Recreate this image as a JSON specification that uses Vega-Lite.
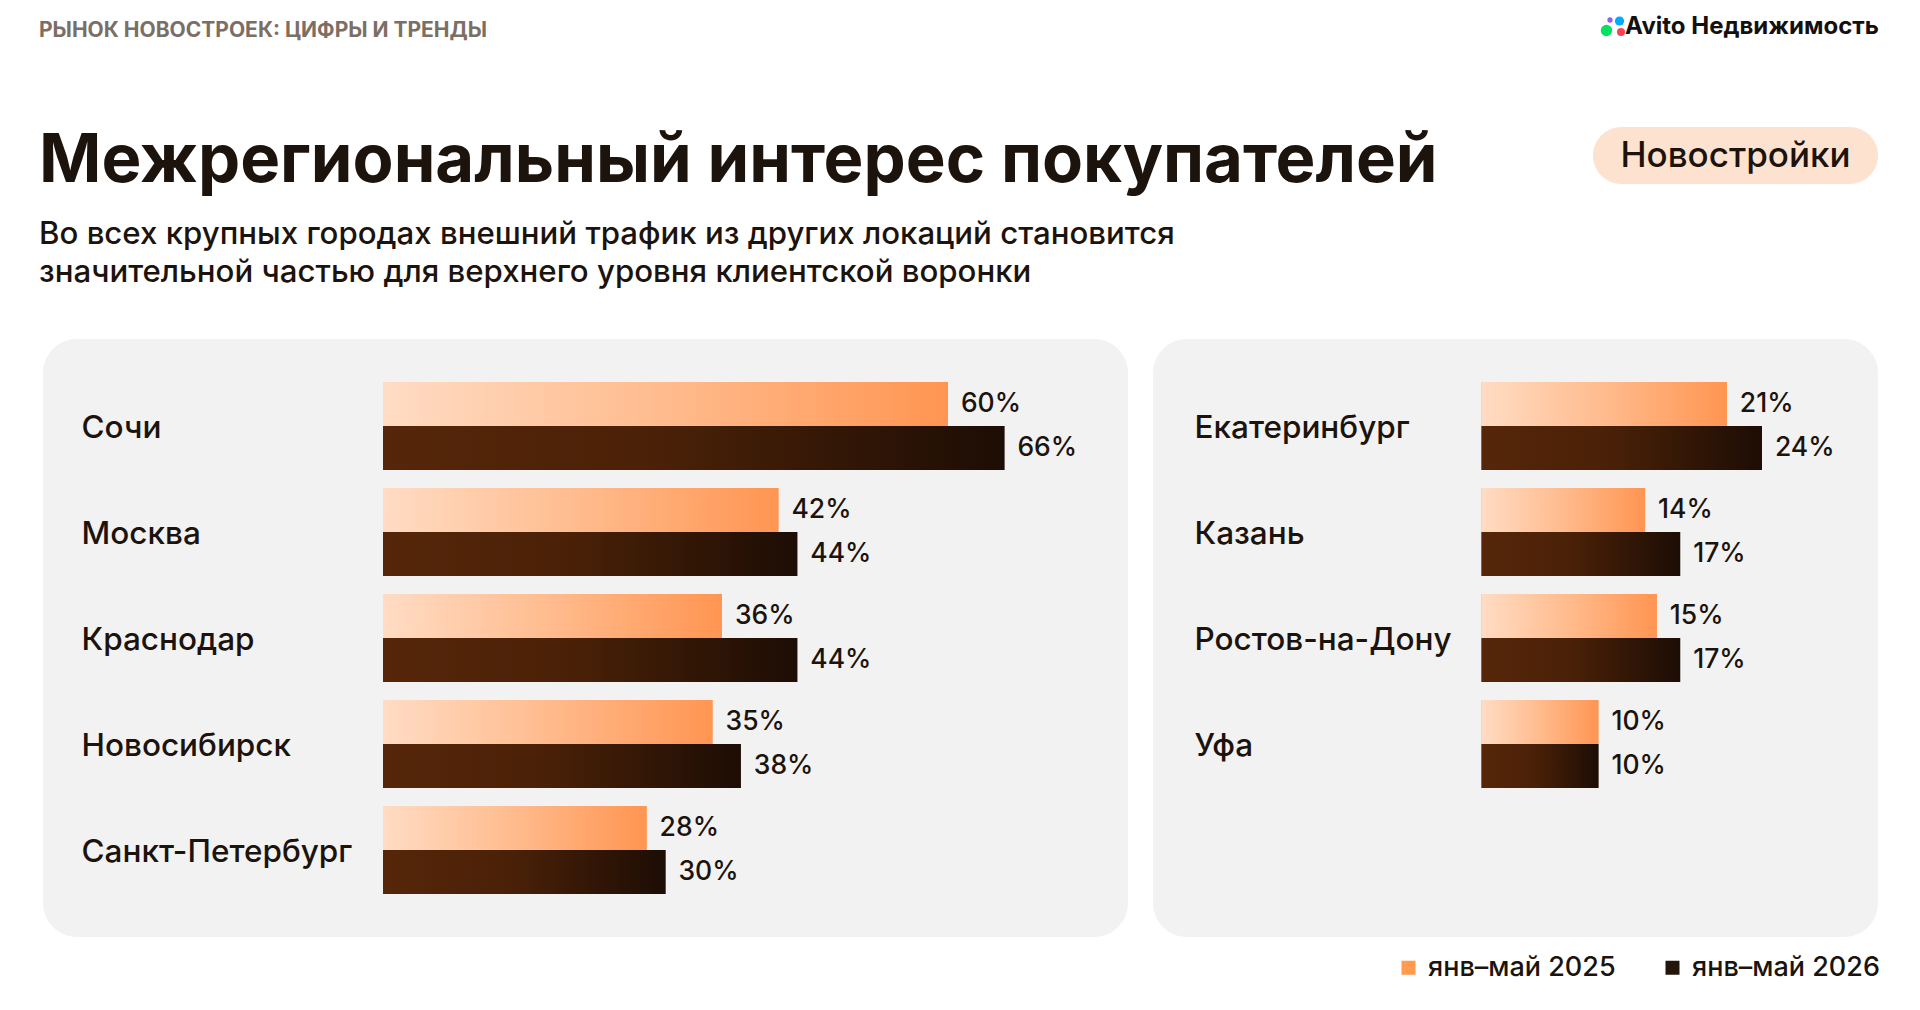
{
  "$schema": "https://vega.github.io/schema/vega-lite/v6.json",
  "background": "#ffffff",
  "padding": {"left": 39, "top": 12, "right": 10, "bottom": 10},
  "spacing": 0,
  "config": {
    "font": "Inter",
    "view": {"stroke": null},
    "axis": {"labelFont": "Inter"},
    "title": {"font": "Inter", "subtitleFont": "Inter"},
    "legend": {"labelFont": "Inter"}
  },
  "datasets": {
    "left": [
      {"city": "Сочи", "period": "янв–май 2025", "value": 0.60},
      {"city": "Сочи", "period": "янв–май 2026", "value": 0.66},
      {"city": "Москва", "period": "янв–май 2025", "value": 0.42},
      {"city": "Москва", "period": "янв–май 2026", "value": 0.44},
      {"city": "Краснодар", "period": "янв–май 2025", "value": 0.36},
      {"city": "Краснодар", "period": "янв–май 2026", "value": 0.44},
      {"city": "Новосибирск", "period": "янв–май 2025", "value": 0.35},
      {"city": "Новосибирск", "period": "янв–май 2026", "value": 0.38},
      {"city": "Санкт-Петербург", "period": "янв–май 2025", "value": 0.28},
      {"city": "Санкт-Петербург", "period": "янв–май 2026", "value": 0.30}
    ],
    "right": [
      {"city": "Екатеринбург", "period": "янв–май 2025", "value": 0.21},
      {"city": "Екатеринбург", "period": "янв–май 2026", "value": 0.24},
      {"city": "Казань", "period": "янв–май 2025", "value": 0.14},
      {"city": "Казань", "period": "янв–май 2026", "value": 0.17},
      {"city": "Ростов-на-Дону", "period": "янв–май 2025", "value": 0.15},
      {"city": "Ростов-на-Дону", "period": "янв–май 2026", "value": 0.17},
      {"city": "Уфа", "period": "янв–май 2025", "value": 0.10},
      {"city": "Уфа", "period": "янв–май 2026", "value": 0.10}
    ]
  },
  "vconcat": [
    {
      "bounds": "flush",
      "spacing": 20,
      "hconcat": [
        {
          "width": 1542,
          "height": 115,
          "data": {"values": [{}]},
          "mark": {"type": "text", "text": ""},
          "title": {
            "text": "РЫНОК НОВОСТРОЕК: ЦИФРЫ И ТРЕНДЫ",
            "anchor": "start", "frame": "group", "orient": "top",
            "offset": -29, "dx": -4,
            "fontSize": 21, "fontWeight": 700, "color": "#7b6e65"
          }
        },
        {
          "width": 273,
          "height": 28,
          "data": {"values": [{"label": "Avito Недвижимость"}]},
          "layer": [
            {
              "mark": {"type": "text", "fontSize": 24, "fontWeight": 700, "color": "#14100e", "dx": 10.5, "dy": 1, "baseline": "middle", "align": "center"},
              "encoding": {"text": {"field": "label"}}
            },
            {"mark": {"type": "point", "filled": true, "size": 130, "color": "#04e061", "strokeWidth": 0, "opacity": 1, "xOffset": -135, "yOffset": 4.5}, "encoding": {}},
            {"mark": {"type": "point", "filled": true, "size": 64, "color": "#ff4053", "strokeWidth": 0, "opacity": 1, "xOffset": -120.5, "yOffset": 6}, "encoding": {}},
            {"mark": {"type": "point", "filled": true, "size": 85, "color": "#00aaff", "strokeWidth": 0, "opacity": 1, "xOffset": -122, "yOffset": -5}, "encoding": {}},
            {"mark": {"type": "point", "filled": true, "size": 28, "color": "#965eeb", "strokeWidth": 0, "opacity": 1, "xOffset": -131.5, "yOffset": -6}, "encoding": {}}
          ]
        }
      ]
    },
    {
      "bounds": "flush",
      "spacing": 20,
      "hconcat": [
        {
          "width": 1530,
          "height": 212,
          "data": {"values": [{}]},
          "mark": {"type": "text", "text": ""},
          "title": {
            "text": "Межрегиональный интерес покупателей",
            "subtitle": ["Во всех крупных городах внешний трафик из других локаций становится", "значительной частью для верхнего уровня клиентской воронки"],
            "anchor": "start", "frame": "group", "orient": "top",
            "offset": -162, "dx": -4,
            "fontSize": 67, "fontWeight": 700, "color": "#1c130d",
            "subtitleFontSize": 31.2, "subtitleFontWeight": 500, "subtitleColor": "#1c130d",
            "subtitleLineHeight": 38, "subtitlePadding": 23
          }
        },
        {
          "width": 285,
          "height": 57,
          "view": {"fill": "#fde2cf", "cornerRadius": 28.5, "stroke": null},
          "data": {"values": [{"label": "Новостройки"}]},
          "mark": {"type": "text", "fontSize": 35, "fontWeight": 500, "color": "#1c130d", "baseline": "middle", "align": "center"},
          "encoding": {"text": {"field": "label"}}
        }
      ]
    },
    {
      "bounds": "flush",
      "spacing": 25,
      "hconcat": [
        {
          "width": 1085,
          "height": 598,
          "view": {"fill": "#f2f2f2", "cornerRadius": 34, "stroke": null},
          "data": {"name": "left"},
          "encoding": {
            "y": {
              "field": "city", "type": "nominal", "sort": null,
              "scale": {"paddingInner": 0.1698, "paddingOuter": 0.4057},
              "axis": {"orient": "left", "title": null, "domain": true, "domainOpacity": 0, "offset": 4, "ticks": false, "tickSize": 0, "labelPadding": -42, "labelAlign": "left", "labelOffset": 3, "labelFontSize": 31.5, "labelFontWeight": 500, "labelColor": "#1c130d", "labelLimit": 0, "grid": false}
            },
            "yOffset": {"field": "period", "type": "nominal", "scale": {"paddingInner": 0, "paddingOuter": 0}},
            "x": {"field": "value", "type": "quantitative", "scale": {"domain": [0, 0.7913], "range": [340, 1085]}, "axis": null}
          },
          "layer": [
            {
              "mark": {"type": "bar"},
              "encoding": {
                "color": {
                  "field": "period", "type": "nominal",
                  "scale": {"domain": ["янв–май 2025", "янв–май 2026"], "range": ["#ff9a4f", "#231509"]},
                  "legend": {"orient": "none", "legendX": 1352, "legendY": 942, "direction": "horizontal", "title": null, "symbolType": "square", "symbolSize": 196, "symbolStrokeWidth": 0, "labelFontSize": 27, "labelFontWeight": 500, "labelColor": "#1c130d", "columnPadding": 43, "labelOffset": 6, "padding": 0, "labelLimit": 0}
                }
              }
            },
            {
              "mark": {"type": "bar"},
              "encoding": {
                "fill": {
                  "condition": {
                    "test": "datum.period === 'янв–май 2025'",
                    "value": {"gradient": "linear", "x1": 0, "y1": 0, "x2": 1, "y2": 0, "stops": [{"offset": 0, "color": "#ffdcc4"}, {"offset": 0.5, "color": "#ffbb8d"}, {"offset": 1, "color": "#ff9552"}]}
                  },
                  "value": {"gradient": "linear", "x1": 0, "y1": 0, "x2": 1, "y2": 0, "stops": [{"offset": 0, "color": "#56260a"}, {"offset": 0.45, "color": "#4a2107"}, {"offset": 1, "color": "#1d0d05"}]}
                }
              }
            },
            {
              "mark": {"type": "text", "align": "left", "baseline": "middle", "dx": 13, "fontSize": 26.5, "fontWeight": 500, "color": "#1c130d"},
              "encoding": {"text": {"field": "value", "type": "quantitative", "format": ".0%"}}
            }
          ]
        },
        {
          "width": 725,
          "height": 598,
          "view": {"fill": "#f2f2f2", "cornerRadius": 34, "stroke": null},
          "data": {"name": "right"},
          "encoding": {
            "y": {
              "field": "city", "type": "nominal", "sort": null,
              "scale": {"paddingInner": 0.1698, "paddingOuter": 0.4057, "range": [0, 492]},
              "axis": {"orient": "left", "title": null, "domain": false, "ticks": false, "tickSize": 0, "labelPadding": -41, "labelAlign": "left", "labelOffset": 3, "labelFontSize": 31.5, "labelFontWeight": 500, "labelColor": "#1c130d", "labelLimit": 0, "grid": false}
            },
            "yOffset": {"field": "period", "type": "nominal", "scale": {"paddingInner": 0, "paddingOuter": 0}},
            "x": {"field": "value", "type": "quantitative", "scale": {"domain": [0, 0.3394], "range": [328.6, 725]}, "axis": null}
          },
          "layer": [
            {
              "mark": {"type": "bar"},
              "encoding": {
                "color": {
                  "field": "period", "type": "nominal",
                  "scale": {"domain": ["янв–май 2025", "янв–май 2026"], "range": ["#ff9a4f", "#231509"]},
                  "legend": {"orient": "none", "legendX": 1352, "legendY": 942, "direction": "horizontal", "title": null, "symbolType": "square", "symbolSize": 196, "symbolStrokeWidth": 0, "labelFontSize": 27, "labelFontWeight": 500, "labelColor": "#1c130d", "columnPadding": 43, "labelOffset": 6, "padding": 0, "labelLimit": 0}
                }
              }
            },
            {
              "mark": {"type": "bar"},
              "encoding": {
                "fill": {
                  "condition": {
                    "test": "datum.period === 'янв–май 2025'",
                    "value": {"gradient": "linear", "x1": 0, "y1": 0, "x2": 1, "y2": 0, "stops": [{"offset": 0, "color": "#ffdcc4"}, {"offset": 0.5, "color": "#ffbb8d"}, {"offset": 1, "color": "#ff9552"}]}
                  },
                  "value": {"gradient": "linear", "x1": 0, "y1": 0, "x2": 1, "y2": 0, "stops": [{"offset": 0, "color": "#56260a"}, {"offset": 0.45, "color": "#4a2107"}, {"offset": 1, "color": "#1d0d05"}]}
                }
              }
            },
            {
              "mark": {"type": "text", "align": "left", "baseline": "middle", "dx": 13, "fontSize": 26.5, "fontWeight": 500, "color": "#1c130d"},
              "encoding": {"text": {"field": "value", "type": "quantitative", "format": ".0%"}}
            }
          ]
        }
      ]
    }
  ]
}
